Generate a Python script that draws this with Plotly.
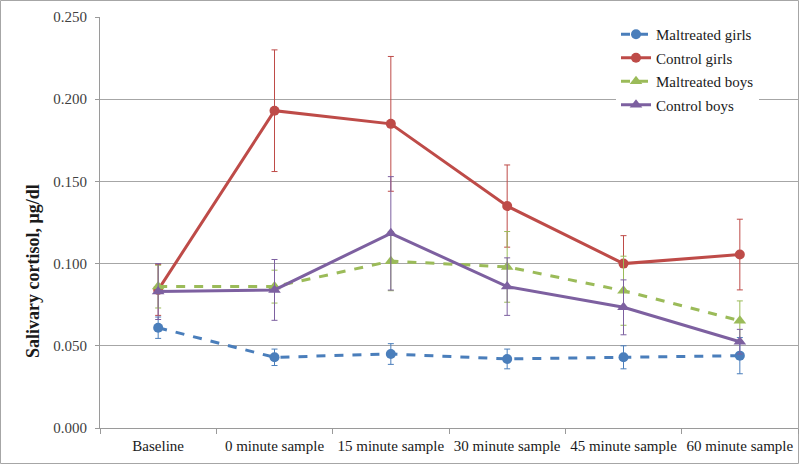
import plotly.graph_objects as go

categories = ["Baseline", "0 minute sample", "15 minute sample",
              "30 minute sample", "45 minute sample", "60 minute sample"]

mal_girls = [0.061, 0.043, 0.045, 0.042, 0.043, 0.044]
mal_girls_err = [0.0065, 0.005, 0.0063, 0.006, 0.007, 0.011]

ctl_girls = [0.084, 0.193, 0.185, 0.135, 0.100, 0.1055]
ctl_girls_err = [0.0155, 0.037, 0.041, 0.025, 0.017, 0.0215]

mal_boys = [0.086, 0.086, 0.1015, 0.098, 0.0835, 0.0653]
mal_boys_err = [0.013, 0.010, 0.018, 0.0215, 0.021, 0.012]

ctl_boys = [0.083, 0.084, 0.1184, 0.086, 0.0734, 0.0525]
ctl_boys_err = [0.017, 0.0185, 0.0345, 0.0175, 0.0167, 0.0075]

y_title = "<b>Salivary cortisol, μg/dl</b>"

series = [
    ("Maltreated girls", mal_girls, mal_girls_err, "#4A7EBB", "dash", "circle", 10),
    ("Control girls", ctl_girls, ctl_girls_err, "#BE4B48", "solid", "circle", 10),
    ("Maltreated boys", mal_boys, mal_boys_err, "#9BBB59", "dash", "triangle-up", 11),
    ("Control boys", ctl_boys, ctl_boys_err, "#7D60A0", "solid", "triangle-up", 11),
]

FONT = "Liberation Serif"
FS = 15

fig = go.Figure()
for i, (name, vals, errs, color, dash, sym, msize) in enumerate(series):
    fig.add_trace(go.Scatter(
        x=categories, y=vals, name=name, mode="lines+markers",
        legendgroup=f"g{i}",
        line=dict(color=color, width=3, dash=dash),
        marker=dict(color=color, symbol=sym, size=msize),
        error_y=dict(type="data", array=errs, visible=True,
                     color=color, thickness=1, width=3),
    ))

W, H = 800, 466
ml, mr, mt, mb = 100, 2, 17, 38
pw, ph = W - ml - mr, H - mt - mb

fig.update_layout(
    width=W, height=H,
    margin=dict(l=ml, r=mr, t=mt, b=mb, autoexpand=False),
    paper_bgcolor="white", plot_bgcolor="white",
    font=dict(family=FONT, size=FS, color="#1a1a1a"),
    showlegend=True,
    legend=dict(x=(616 - ml) / pw, y=1 - (18 - mt) / ph, xanchor="left", yanchor="top",
                bgcolor="white", borderwidth=0, tracegroupgap=1,
                traceorder="grouped",
                font=dict(family=FONT, size=FS, color="#1a1a1a")),
    xaxis=dict(type="category", showgrid=False, showline=True, linecolor="#9a9a9a",
               linewidth=1, ticks="outside", tickson="boundaries", ticklen=5,
               tickcolor="#9a9a9a", zeroline=False, range=[-0.5, 5.5], automargin=False,
               ticklabelstandoff=4,
               tickfont=dict(family=FONT, size=FS, color="#1a1a1a")),
    yaxis=dict(range=[0, 0.25], dtick=0.05, tickformat=".3f", showgrid=True,
               gridcolor="#a6a6a6", gridwidth=1, showline=True, linecolor="#9a9a9a",
               ticks="outside", ticklen=4, tickcolor="#9a9a9a", zeroline=False,
               automargin=False, ticklabelstandoff=5,
               tickfont=dict(family=FONT, size=FS, color="#404040")),
    annotations=[dict(text=y_title, textangle=-90, showarrow=False,
                      xref="paper", yref="paper",
                      x=(33 - ml) / pw, y=1 - (271 - mt) / ph,
                      xanchor="center", yanchor="middle",
                      font=dict(family=FONT, size=18, color="#1a1a1a"))],
    shapes=[dict(type="rect", xref="paper", yref="paper",
                 x0=(0.5 - ml) / pw, x1=(W - 1.5 - ml) / pw,
                 y0=-(mb - 2.5) / ph, y1=1 + (mt - 0.5) / ph,
                 line=dict(color="#a6a6a6", width=1), layer="below")],
)

fig.write_html("out.html", config={"displayModeBar": False},
               post_script="document.body.style.margin='0';document.body.style.padding='0';")
